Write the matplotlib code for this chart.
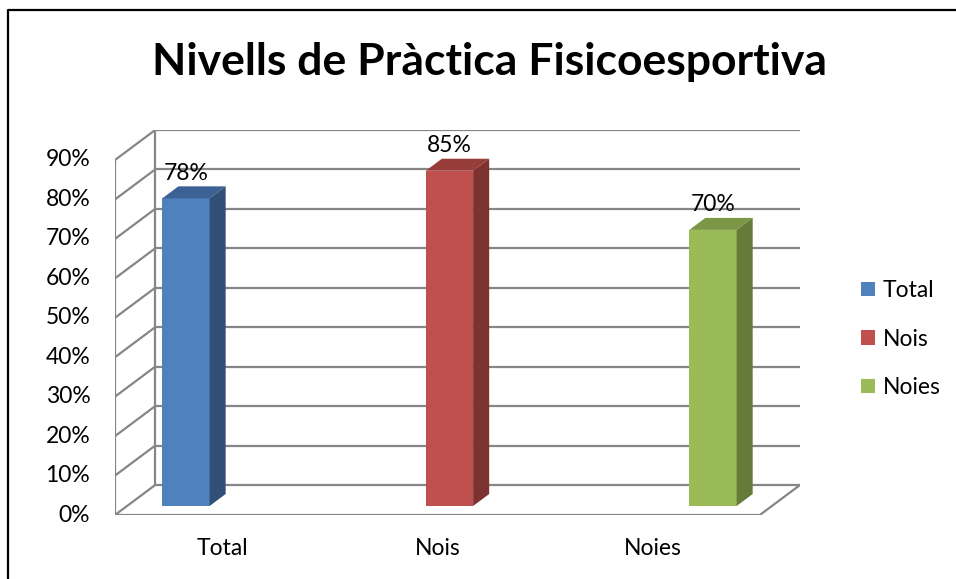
import matplotlib
matplotlib.use("Agg")
import matplotlib.pyplot as plt
from matplotlib.patches import Polygon, Patch
from matplotlib.lines import Line2D

plt.rcParams['font.family'] = ['Lato', 'DejaVu Sans']

title = "Nivells de Pràctica Fisicoesportiva"
categories = ["Total", "Nois", "Noies"]
values = [78, 85, 70]
yticks = [0, 10, 20, 30, 40, 50, 60, 70, 80, 90]
ytick_labels = ["0%", "10%", "20%", "30%", "40%", "50%", "60%", "70%", "80%", "90%"]
value_labels = ["78%", "85%", "70%"]

front_colors = ["#4F81BD", "#C0504D", "#9BBB59"]
top_colors = ["#3C6295", "#973E3B", "#7B9746"]
side_colors = ["#324F78", "#7D3230", "#667A3A"]

W, H = 956, 579
fig = plt.figure(figsize=(W / 100, H / 100), dpi=100)
fig.patch.set_facecolor("white")

# plot region in pixels (front-left/bottom to back-right/top)
left_px, right_px, bottom_px, top_px = 115, 800, 515, 130
ax = fig.add_axes([left_px / W, 1 - bottom_px / H,
                   (right_px - left_px) / W, (bottom_px - top_px) / H])

ncat = len(categories)
ymax = yticks[-1]
px_per_x = 214.0
px_per_y = 3.945
DX = 40 / px_per_x      # depth offset in x data units
DY = 30 / px_per_y      # depth offset in y data units

ax.set_xlim(0, ncat + DX)
ax.set_ylim(0, ymax + DY)
ax.axis("off")

grid_kw = dict(color="#868686", lw=1.6, zorder=1, solid_capstyle="butt")
for t in yticks:
    ax.plot([DX, ncat + DX], [t + DY, t + DY], **grid_kw)
    ax.plot([0, DX], [t, t + DY], **grid_kw)
ax.plot([0, 0], [0, ymax], **grid_kw)
ax.plot([DX, DX], [DY, ymax + DY], **grid_kw)
ax.plot([0, ncat], [0, 0], **grid_kw)
ax.plot([ncat, ncat + DX], [0, DY], **grid_kw)

# tick labels
for t, lab in zip(yticks, ytick_labels):
    ax.text(-0.115, t, lab, ha="right", va="center", fontsize=16.5, color="black")
for i, lab in enumerate(categories):
    ax.text(i + 0.5, -8.5, lab, ha="center", va="center", fontsize=16.5, color="black")

# bars (pseudo-3D)
bw = 0.22
d0, d1 = 0.3, 0.7
spacing = 1.226
for i, v in enumerate(values):
    c = ncat / 2 + (i - (ncat - 1) / 2) * spacing
    x0 = c - bw / 2 + d0 * DX
    y0 = d0 * DY
    ddx = (d1 - d0) * DX
    ddy = (d1 - d0) * DY
    front = Polygon([(x0, y0), (x0 + bw, y0), (x0 + bw, y0 + v), (x0, y0 + v)],
                    closed=True, facecolor=front_colors[i], edgecolor="none", zorder=3)
    top = Polygon([(x0, y0 + v), (x0 + bw, y0 + v), (x0 + bw + ddx, y0 + v + ddy),
                   (x0 + ddx, y0 + v + ddy)],
                  closed=True, facecolor=top_colors[i], edgecolor="none", zorder=3)
    side = Polygon([(x0 + bw, y0), (x0 + bw + ddx, y0 + ddy), (x0 + bw + ddx, y0 + v + ddy),
                    (x0 + bw, y0 + v)],
                   closed=True, facecolor=side_colors[i], edgecolor="none", zorder=3)
    for p in (front, top, side):
        ax.add_patch(p)
    ax.annotate(value_labels[i], (x0 + bw / 2, y0 + v + ddy), xytext=(0, 2),
                textcoords="offset points", ha="center", va="bottom",
                fontsize=16.5, color="black", zorder=4)

# legend
handles = [Patch(facecolor=c, edgecolor="none") for c in front_colors]
fig.legend(handles, categories, loc="center left", bbox_to_anchor=(861 / W, 1 - 339 / H),
           frameon=False, fontsize=16.5, handlelength=0.6, handleheight=0.6,
           handletextpad=0.35, labelspacing=1.2, borderaxespad=0, borderpad=0)

# title
fig.text(489 / W, 1 - 62 / H, title, ha="center", va="center",
         fontsize=32, fontweight="bold", color="black")

# outer frame (top and left visible)
fig.add_artist(Line2D([8 / W, 8 / W, 1.0], [0.0, 1 - 10 / H, 1 - 10 / H],
                      transform=fig.transFigure, color="black", lw=1.6))

fig.savefig("out.png", dpi=100, facecolor="white")
